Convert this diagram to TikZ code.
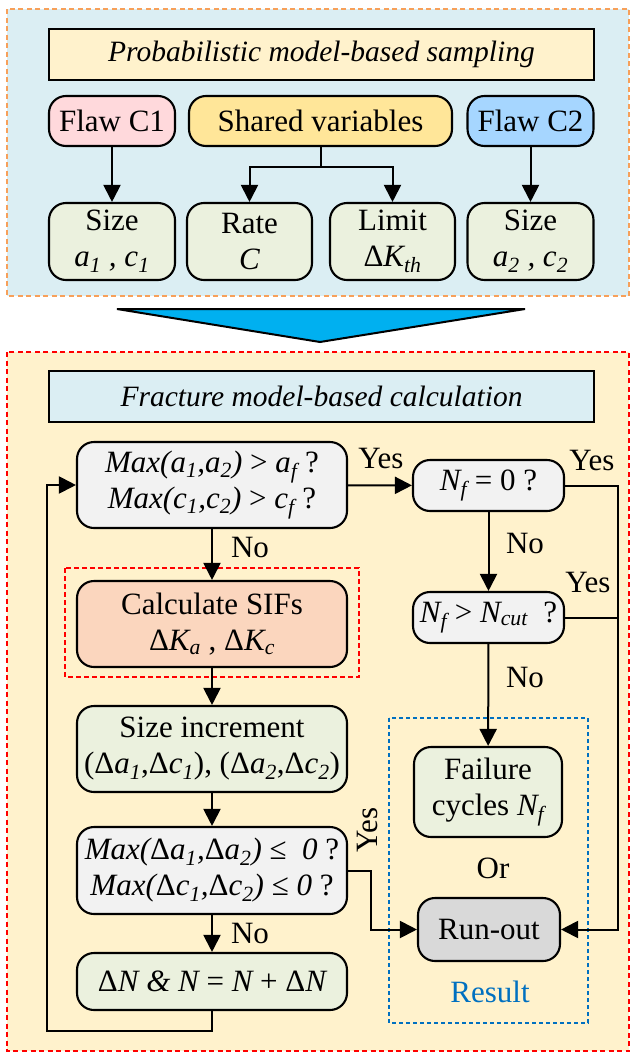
\documentclass[tikz,border=0pt]{standalone}
\usepackage{fontspec}
\setmainfont{Liberation Serif}
\usetikzlibrary{arrows.meta}
\definecolor{panelblue}{RGB}{219,238,243}
\definecolor{panelyellow}{RGB}{255,242,204}
\definecolor{dashorange}{RGB}{247,160,90}
\definecolor{flawpink}{RGB}{255,217,220}
\definecolor{sharedyellow}{RGB}{255,230,153}
\definecolor{flawblue}{RGB}{166,214,255}
\definecolor{boxgreen}{RGB}{235,241,222}
\definecolor{boxgray}{RGB}{242,242,242}
\definecolor{boxpeach}{RGB}{251,214,190}
\definecolor{runoutgray}{RGB}{217,217,217}
\definecolor{resultblue}{RGB}{0,112,192}
\definecolor{arrowblue}{RGB}{0,176,240}
\tikzset{
  box/.style={draw, line width=2.1pt, rounded corners=17pt, align=center, inner sep=0pt},
  titlebox/.style={draw, line width=2.1pt, align=center, inner sep=0pt, font=\fontsize{29.5}{34}\selectfont\itshape},
  arr/.style={line width=2pt, -{Triangle[width=17pt,length=17pt]}},
  conn/.style={line width=2pt},
  lbl/.style={inner sep=0pt},
  panel/.style={line width=2.4pt, dash pattern=on 5pt off 3.5pt},
}
\begin{document}
\begin{tikzpicture}[x=1pt,y=-1pt, font=\fontsize{31}{36}\selectfont]
\useasboundingbox (0,0) rectangle (632,1055);
% panels
\draw[panel, draw=dashorange, fill=panelblue] (7,9) rectangle (629,296);
\draw[panel, draw=red, fill=panelyellow] (7,352) rectangle (629,1051);
% big arrow
\draw[line width=2pt, fill=arrowblue] (117,309) -- (525,309) -- (320,342) -- cycle;

% top panel
\node[titlebox, fill=panelyellow, minimum width=545pt, minimum height=51pt] (t1) at (321.5,54.5) {Probabilistic model-based sampling};
\node[box, fill=flawpink, minimum width=126pt, minimum height=50pt] (flaw1) at (112,121) {Flaw C1};
\node[box, fill=sharedyellow, minimum width=263pt, minimum height=50pt] (shared) at (320.5,121) {Shared variables};
\node[box, fill=flawblue, minimum width=126pt, minimum height=50pt] (flaw2) at (530.5,121) {Flaw C2};
\node[box, fill=boxgreen, minimum width=126pt, minimum height=77pt] (size1) at (112,241.5) {Size\\{\itshape a\textsubscript{1} , c\textsubscript{1}}};
\node[box, fill=boxgreen, minimum width=125pt, minimum height=77pt] (rate) at (249.5,241.5) {Rate\\{\itshape C}};
\node[box, fill=boxgreen, minimum width=125pt, minimum height=77pt] (limit) at (392.5,241.5) {Limit\\Δ{\itshape K\textsubscript{th}}};
\node[box, fill=boxgreen, minimum width=126pt, minimum height=77pt] (size2) at (530.5,241.5) {Size\\{\itshape a\textsubscript{2} , c\textsubscript{2}}};

\draw[arr] (flaw1) -- (size1);
\draw[arr] (flaw2) -- (size2);
\draw[arr] (shared.south) -- ++(0,20) -| (rate.north);
\draw[arr] (shared.south) -- ++(0,20) -| (limit.north);

% bottom panel
\node[titlebox, fill=panelblue, minimum width=545pt, minimum height=51pt] (t2) at (321.5,396.5) {Fracture model-based calculation};

\draw[line width=2.2pt, draw=red, dash pattern=on 5pt off 3pt] (65,568) rectangle (359,677);
\draw[line width=2.4pt, draw=resultblue, dash pattern=on 4pt off 3pt] (389,718) rectangle (588,1023);

\node[box, fill=boxgray, minimum width=270pt, minimum height=86pt] (d1) at (212,485) {{\itshape Max(a\textsubscript{1},a\textsubscript{2})} > {\itshape a\textsubscript{f}} ?\\{\itshape Max(c\textsubscript{1},c\textsubscript{2})} > {\itshape c\textsubscript{f}} ?};
\node[box, fill=boxgray, minimum width=151pt, minimum height=51pt] (n0) at (488.5,485.5) {{\itshape N\textsubscript{f}} = 0 ?};
\node[box, fill=boxgray, minimum width=151pt, minimum height=51pt] (ncut) at (488.5,617.5) {{\itshape N\textsubscript{f}} > {\itshape N\textsubscript{cut}}\ \ ?};
\node[box, fill=boxpeach, minimum width=270pt, minimum height=86pt] (sif) at (212,624) {Calculate SIFs\\Δ{\itshape K\textsubscript{a}} , Δ{\itshape K\textsubscript{c}}};
\node[box, fill=boxgreen, minimum width=270pt, minimum height=86pt] (inc) at (212,749) {Size increment\\(Δ{\itshape a\textsubscript{1}},Δ{\itshape c\textsubscript{1}}), (Δ{\itshape a\textsubscript{2}},Δ{\itshape c\textsubscript{2}})};
\node[box, fill=boxgray, minimum width=270pt, minimum height=87pt] (d3) at (212,870.5) {{\itshape Max(}Δ{\itshape a\textsubscript{1},}Δ{\itshape a\textsubscript{2})} ≤\ \ {\itshape 0} ?\\{\itshape Max(}Δ{\itshape c\textsubscript{1},}Δ{\itshape c\textsubscript{2})} ≤ {\itshape 0} ?};
\node[box, fill=boxgreen, minimum width=270pt, minimum height=57pt] (dn) at (212,981.5) {Δ{\itshape N \& N} = {\itshape N} + Δ{\itshape N}};
\node[box, fill=boxgreen, minimum width=148pt, minimum height=90pt] (fail) at (488,792) {Failure\\cycles {\itshape N\textsubscript{f}}};
\node[box, fill=runoutgray, minimum width=142pt, minimum height=63pt] (run) at (489,929.5) {Run-out};
\node[lbl] (or) at (493,868) {Or};
\node[lbl, text=resultblue] (res) at (490,992) {Result};

% connectors
\coordinate (loopL) at (47,1031);
\draw[arr] (dn.south) |- (loopL) |- (d1.west);
\draw[arr] (d1) -- (n0);
\draw[arr] (d1) -- (sif);
\draw[arr] (sif) -- (inc);
\draw[arr] (inc) -- (d3);
\draw[arr] (d3) -- (dn);
\draw[arr] (n0) -- (ncut);
\draw[arr] (ncut) -- (fail);
\coordinate (rtop) at (618,485.5);
\draw[arr] (n0.east) -- (rtop) |- (run.east);
\draw[conn] (ncut.east) -- (ncut.east -| rtop);
\coordinate (ymid) at (371,870.5);
\draw[arr] (d3.east) -- (ymid) |- (run.west);

% labels
\node[lbl] at (381,458) {Yes};
\node[lbl] at (592,460) {Yes};
\node[lbl] at (525,543) {No};
\node[lbl] at (588,582) {Yes};
\node[lbl] at (525,677) {No};
\node[lbl] at (250,547) {No};
\node[lbl, rotate=90] at (367,830) {Yes};
\node[lbl] at (250,933) {No};
\end{tikzpicture}
\end{document}
